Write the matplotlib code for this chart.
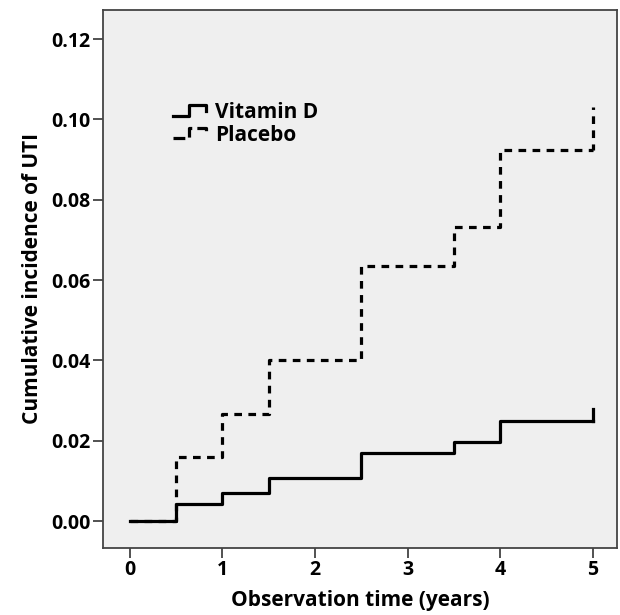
import matplotlib
matplotlib.use("Agg")
import matplotlib.pyplot as plt
from matplotlib.lines import Line2D
from matplotlib.legend_handler import HandlerBase

plt.rcParams['font.family'] = ['Open Sans', 'DejaVu Sans']
plt.rcParams['font.weight'] = 'bold'

# step times (years) and cumulative incidence after each step
times = [0, 0.5, 1.0, 1.5, 2.5, 3.5, 4.0, 5.0]
vitd = [0, 0.0043, 0.0070, 0.0107, 0.0170, 0.0196, 0.0249, 0.0249]
placebo = [0, 0.0160, 0.0266, 0.0400, 0.0636, 0.0731, 0.0923, 0.0923]
# censoring tick at the end of follow-up
end_time = 5.0
vitd_end = 0.0279
placebo_end = 0.1031

xticks = [0, 1, 2, 3, 4, 5]
yticks = [0.00, 0.02, 0.04, 0.06, 0.08, 0.10, 0.12]


class StepHandler(HandlerBase):
    # draw a little step glyph in the legend like SPSS does
    def create_artists(self, legend, orig, xd, yd, w, h, fontsize, trans):
        xs = [xd, xd + w * 0.5, xd + w * 0.5, xd + w, xd + w]
        ys = [yd + h * 0.15, yd + h * 0.15, yd + h * 0.85, yd + h * 0.85, yd + h * 0.5]
        ln = Line2D(xs, ys, color=orig.get_color(), lw=orig.get_linewidth(),
                    linestyle=orig.get_linestyle(), transform=trans)
        return [ln]


fig = plt.figure(figsize=(6.2, 6.15), dpi=100)
ax = fig.add_axes([0.166, 0.109, 0.829, 0.875])
ax.set_facecolor('#efefef')

l1, = ax.step(times, vitd, where='post', color='black', lw=2.3, label='Vitamin D')
ax.plot([end_time, end_time], [vitd[-1], vitd_end], color='black', lw=2.3)
l2, = ax.step(times, placebo, where='post', color='black', lw=2.3,
              linestyle=(0, (2.4, 2.0)), label='Placebo')
ax.plot([end_time, end_time], [placebo[-1], placebo_end], color='black', lw=2.3,
        linestyle=(0.5, (2.4, 2.0)))

ax.set_xlim(-0.29, 5.26)
ax.set_ylim(-0.0067, 0.1273)
ax.set_xticks(xticks)
ax.set_yticks(yticks)
ax.set_yticklabels(['%.2f' % v for v in yticks])
ax.tick_params(direction='out', length=7, width=1.2, color='#333333',
               labelsize=14, pad=2)

for s in ax.spines.values():
    s.set_color('#444444')
    s.set_linewidth(1.3)

ax.set_xlabel('Observation time (years)', fontsize=15, fontweight='bold', labelpad=7)
ax.set_ylabel('Cumulative incidence of UTI', fontsize=15, fontweight='bold', labelpad=6)

ax.legend(handles=[l1, l2], loc='upper left', bbox_to_anchor=(0.136, 0.829),
          frameon=False, fontsize=15, handlelength=1.6, handletextpad=0.43,
          labelspacing=0.08, borderpad=0, borderaxespad=0,
          handler_map={Line2D: StepHandler()})

plt.savefig('out.png', dpi=100)
